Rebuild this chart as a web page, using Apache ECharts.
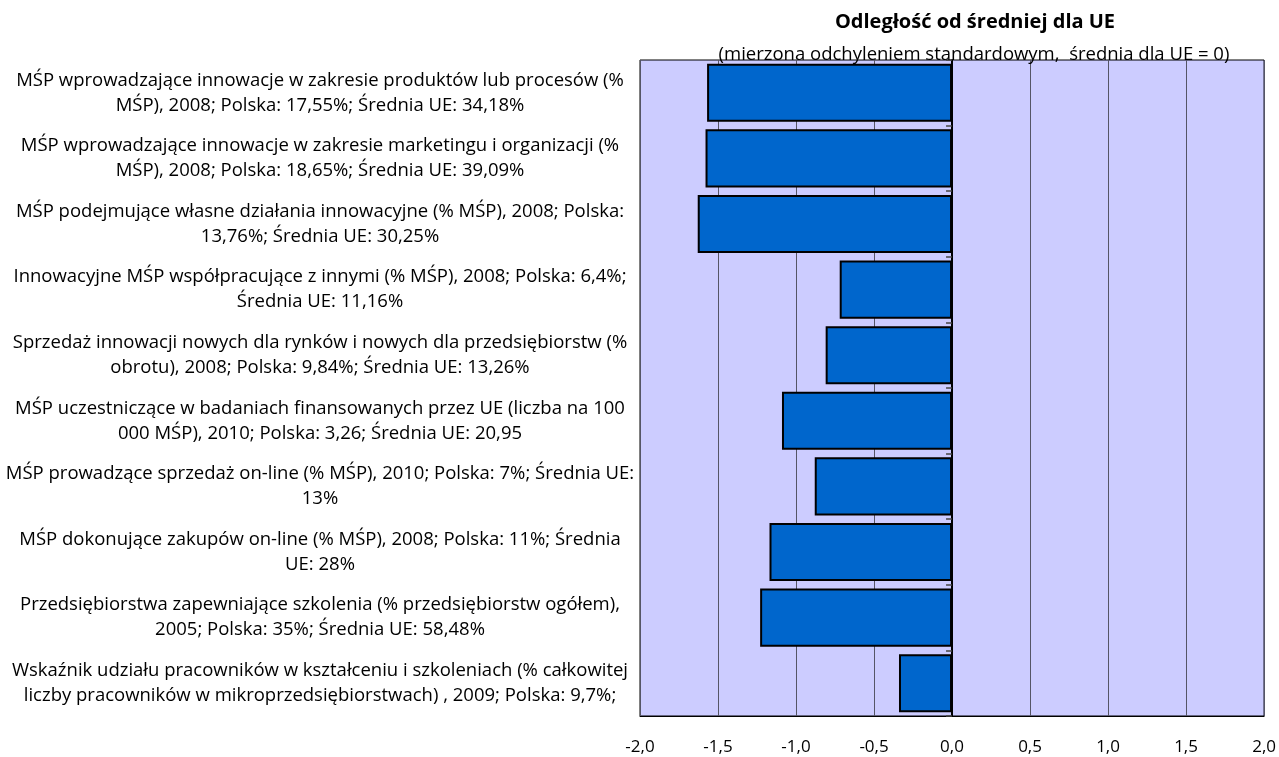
<!DOCTYPE html>
<html>
<head>
<meta charset="utf-8">
<title>Odległość od średniej dla UE</title>
<script src="https://cdn.jsdelivr.net/npm/echarts@6/dist/echarts.min.js"></script>
<style>
  html, body { margin: 0; padding: 0; background: #fff; }
  #chart { width: 1279px; height: 757px; }
</style>
</head>
<body>
<div id="chart"></div>
<script>
// kategorie (z podziałem na linie jak w oryginale)
const categories = [
  'MŚP wprowadzające innowacje w zakresie produktów lub procesów (%\nMŚP), 2008; Polska: 17,55%; Średnia UE: 34,18%',
  'MŚP wprowadzające innowacje w zakresie marketingu i organizacji (%\nMŚP), 2008; Polska: 18,65%; Średnia UE: 39,09%',
  'MŚP podejmujące własne działania innowacyjne (% MŚP), 2008; Polska:\n13,76%; Średnia UE: 30,25%',
  'Innowacyjne MŚP współpracujące z innymi (% MŚP), 2008; Polska: 6,4%;\nŚrednia UE: 11,16%',
  'Sprzedaż innowacji nowych dla rynków i nowych dla przedsiębiorstw (%\nobrotu), 2008; Polska: 9,84%; Średnia UE: 13,26%',
  'MŚP uczestniczące w badaniach finansowanych przez UE (liczba na 100\n000 MŚP), 2010; Polska: 3,26; Średnia UE: 20,95',
  'MŚP prowadzące sprzedaż on-line (% MŚP), 2010; Polska: 7%; Średnia UE:\n13%',
  'MŚP dokonujące zakupów on-line (% MŚP), 2008; Polska: 11%; Średnia\nUE: 28%',
  'Przedsiębiorstwa zapewniające szkolenia (% przedsiębiorstw ogółem),\n2005; Polska: 35%; Średnia UE: 58,48%',
  'Wskaźnik udziału pracowników w kształceniu i szkoleniach (% całkowitej\nliczby pracowników w mikroprzedsiębiorstwach) , 2009; Polska: 9,7%;'
]
// odchylenie od średniej UE (w odchyleniach standardowych)
const distances = [-1.57, -1.58, -1.63, -0.72, -0.81, -1.09, -0.88, -1.17, -1.23, -0.34]
const xTicks = { min: -2, max: 2, step: 0.5 }

const titleText = 'Odległość od średniej dla UE'
const subtitleText = '(mierzona odchyleniem standardowym,  średnia dla UE = 0)'

const font = '"Open Sans", Lato, sans-serif'

const chart = echarts.init(document.getElementById('chart'))
chart.setOption({
  animation: false,
  textStyle: { fontFamily: font, color: '#000' },
  title: [
    {
      text: titleText,
      left: 970,
      top: 7,
      textAlign: 'center',
      textStyle: { fontFamily: font, fontSize: 20, fontWeight: 'bold', color: '#000' }
    },
    {
      text: subtitleText,
      left: 969,
      top: 40,
      textAlign: 'center',
      textStyle: { fontFamily: font, fontSize: 18.5, fontWeight: 'normal', color: '#000' }
    }
  ],
  grid: {
    left: 640,
    right: 14,
    top: 60,
    bottom: 41,
    show: true,
    backgroundColor: '#CCCCFF',
    borderColor: '#000',
    borderWidth: 1
  },
  xAxis: {
    type: 'value',
    min: xTicks.min,
    max: xTicks.max,
    interval: xTicks.step,
    axisLine: { show: true, lineStyle: { color: '#000', width: 1 } },
    axisTick: { show: false },
    splitLine: { show: true, lineStyle: { color: '#555566', width: 1 } },
    axisLabel: {
      margin: 23,
      fontSize: 17,
      color: '#000',
      fontFamily: font,
      formatter: v => v.toFixed(1).replace('.', ',')
    }
  },
  yAxis: [
    {
      type: 'category',
      data: categories,
      inverse: true,
      position: 'left',
      axisLine: { show: false, onZero: false },
      axisTick: { show: false },
      splitLine: { show: false },
      axisLabel: {
        margin: 320,
        align: 'center',
        fontSize: 18.5,
        lineHeight: 25,
        padding: [12, 0, 0, 0],
        color: '#000',
        fontFamily: font,
        interval: 0
      }
    },
    {
      // oś kategorii przy zerze
      type: 'category',
      data: categories,
      inverse: true,
      position: 'left',
      axisLine: { show: true, onZero: true, lineStyle: { color: '#000', width: 2 } },
      axisTick: { show: true, length: 6, lineStyle: { color: '#444', width: 1.5 } },
      axisLabel: { show: false },
      splitLine: { show: false }
    }
  ],
  series: [
    {
      type: 'bar',
      yAxisIndex: 0,
      data: distances,
      barCategoryGap: '11.5%',
      itemStyle: { color: '#0066CC', borderColor: '#000', borderWidth: 2 },
      z: 1
    }
  ]
})
</script>
</body>
</html>
